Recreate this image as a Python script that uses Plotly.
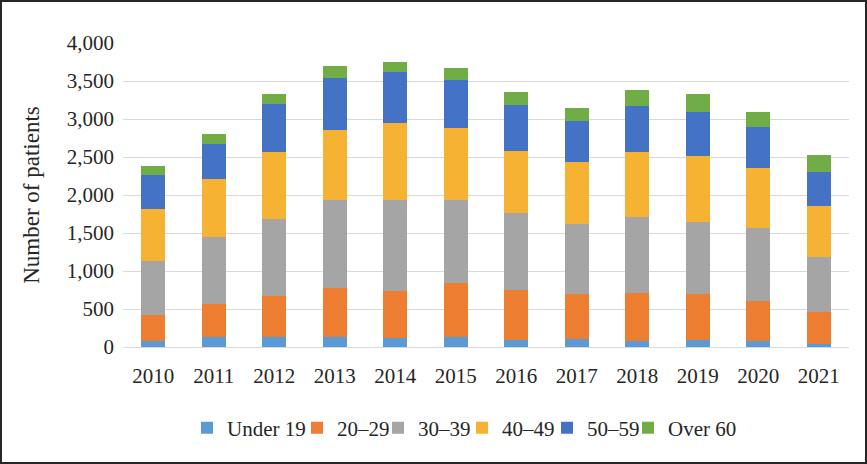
import plotly.graph_objects as go

years = ["2010", "2011", "2012", "2013", "2014", "2015", "2016", "2017", "2018", "2019", "2020", "2021"]
under19 = [75, 127, 127, 127, 119, 127, 88, 101, 75, 88, 75, 35]
age20_29 = [347, 435, 545, 651, 615, 717, 668, 598, 641, 611, 527, 426]
age30_39 = [712, 892, 1011, 1151, 1195, 1085, 1006, 918, 997, 940, 962, 721]
age40_49 = [681, 752, 883, 923, 1019, 958, 822, 813, 853, 879, 795, 677]
age50_59 = [452, 470, 633, 689, 673, 628, 602, 540, 606, 580, 541, 443]
over60 = [110, 132, 136, 159, 123, 158, 167, 181, 207, 237, 198, 225]

series_names = ["Under 19", "20\u201329", "30\u201339", "40\u201349", "50\u201359", "Over 60"]
series_values = [under19, age20_29, age30_39, age40_49, age50_59, over60]
colors = ["#5B9BD5", "#ED7D31", "#A5A5A5", "#F6B333", "#4472C4", "#70AD47"]

W, H = 867, 464
ML, MR, MT, MB = 123, 18, 43, 117
font_family = "Liberation Serif, Times New Roman, serif"
txt = "#262626"

# legend entry left positions (px, container)
legend_left_x = [187, 297, 378, 462, 547, 628]
legend_names = ["legend"] + ["legend%d" % i for i in range(2, 7)]

fig = go.Figure()
for name, vals, col, lg in zip(series_names, series_values, colors, legend_names):
    fig.add_trace(go.Bar(x=years, y=vals, name=name, legend=lg,
                         marker=dict(color=col, line=dict(width=0))))

legend_layout = {}
for lg, lx in zip(legend_names, legend_left_x):
    legend_layout[lg] = dict(
        orientation="h",
        xref="container", yref="container",
        x=lx / W, xanchor="left",
        y=1 - 428 / H, yanchor="middle",
        font=dict(family=font_family, size=21, color=txt),
        bgcolor="rgba(0,0,0,0)",
        borderwidth=0,
    )

fig.update_layout(
    barmode="stack",
    bargap=0.6,
    width=W,
    height=H,
    margin=dict(l=ML, r=MR, t=MT, b=MB),
    paper_bgcolor="white",
    plot_bgcolor="white",
    font=dict(family=font_family, size=21, color=txt),
    showlegend=True,
    xaxis=dict(
        tickfont=dict(family=font_family, size=21, color=txt),
        showgrid=False,
        showline=False,
        ticks="",
        ticklabelstandoff=14,
    ),
    yaxis=dict(
        range=[0, 4000],
        dtick=500,
        tickformat=",d",
        showgrid=True,
        gridcolor="#D9D9D9",
        gridwidth=1,
        zeroline=True,
        zerolinecolor="#D9D9D9",
        zerolinewidth=1,
        tickfont=dict(family=font_family, size=21, color=txt),
        ticks="",
        ticklabelstandoff=8,
        title=dict(text="Number of patients",
                   font=dict(family=font_family, size=23, color=txt), standoff=20),
    ),
    **legend_layout,
)

pw = W - ML - MR
ph = H - MT - MB
fig.add_shape(type="rect", xref="paper", yref="paper",
              x0=(1 - ML) / pw, x1=(W - 1 - ML) / pw,
              y0=(ph + MT - (H - 1)) / ph,
              y1=(ph + MT - 1) / ph,
              line=dict(color="#262626", width=2), fillcolor="rgba(0,0,0,0)", layer="above")

fig.write_html("out.html", config={"displayModeBar": False},
               post_script="document.body.style.margin='0';")
